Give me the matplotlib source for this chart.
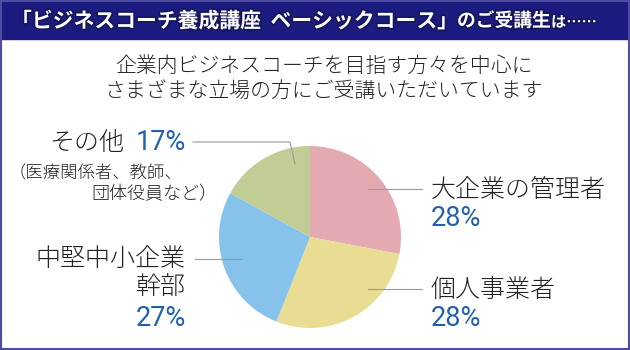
import matplotlib
matplotlib.use("Agg")
from matplotlib import pyplot as plt
from matplotlib.patches import Rectangle
import matplotlib.patheffects as pe

plt.rcParams['font.family'] = ['Noto Sans CJK JP', 'DejaVu Sans']

# 受講生の内訳 (%)
categories = ['大企業の管理者', '個人事業者', '中堅中小企業\n幹部', 'その他']
shares = [28, 28, 27, 17]
colors = ['#e3aab1', '#e9dd94', '#87c2eb', '#c1cd94']

title_main = '「ビジネスコーチ養成講座  ベーシックコース」'
title_tail1 = 'のご受講生'
title_tail2 = 'は……'
subtitle = ['企業内ビジネスコーチを目指す方々を中心に',
            'さまざまな立場の方にご受講いただいています']
other_note = ['（医療関係者、教師、', '団体役員など）']

W, H = 630, 350
fig = plt.figure(figsize=(W / 100, H / 100), dpi=100)
ax = fig.add_axes([0, 0, 1, 1])


def Y(y):
    # 画像の上からのピクセル位置 -> 座標
    return H - y


ax.pie(shares, colors=colors, startangle=90, counterclock=False,
       center=(310, Y(237)), radius=91,
       wedgeprops=dict(linewidth=0))
ax.set_xlim(0, W)
ax.set_ylim(0, H)
ax.set_aspect('equal')
ax.axis('off')

# ヘッダー帯と枠
ax.add_patch(Rectangle((0, Y(39)), W, 39, color='#1c1c80', zorder=0))
ax.add_patch(Rectangle((0.8, 0.8), W - 1.6, H - 2, fill=False,
                       edgecolor='#4c4ca0', linewidth=1.5, zorder=5))

shadow = [pe.withStroke(linewidth=2.5, foreground='#15155e')]
ax.text(11, Y(21), title_main, color='white', fontsize=15, fontweight='bold',
        va='center', ha='left', path_effects=shadow)
ax.text(457, Y(21), title_tail1, color='white', fontsize=13.5,
        fontweight='bold', va='center', ha='left', path_effects=shadow)
ax.text(551, Y(22), title_tail2, color='white', fontsize=11,
        fontweight='bold', va='center', ha='left', path_effects=shadow)

ax.text(324, Y(66), subtitle[0], fontsize=15, color='#222222',
        ha='center', va='center', fontweight='light')
ax.text(324, Y(91), subtitle[1], fontsize=15, color='#222222',
        ha='center', va='center', fontweight='light')

label_c = '#222222'
pct_c = '#2060ad'
line_c = '#9a9a9a'
lab = dict(fontsize=18, color=label_c, va='center', fontweight='light')
pct = dict(fontsize=19.5, color=pct_c, va='center', fontweight='normal',
           family=['Roboto', 'DejaVu Sans'])

# 右側のラベル
ax.text(431, Y(190), categories[0], ha='left', **lab)
ax.text(431, Y(218), f'{shares[0]}%', ha='left', **pct)
ax.text(431, Y(290), categories[1], ha='left', **lab)
ax.text(431, Y(318), f'{shares[1]}%', ha='left', **pct)

# 左側のラベル
ax.text(186, Y(273), categories[2], ha='right', linespacing=1.05, **lab)
ax.text(186, Y(318), f'{shares[2]}%', ha='right', **pct)
ax.text(49, Y(143), categories[3], ha='left', **lab)
ax.text(186, Y(143), f'{shares[3]}%', ha='right', **pct)
ax.text(9, Y(173), other_note[0], fontsize=12.5, color=label_c,
        ha='left', va='center', fontweight='light')
ax.text(91, Y(194), other_note[1], fontsize=13, color=label_c,
        ha='left', va='center', fontweight='light')

# 引き出し線
ax.plot([368, 422], [Y(189), Y(189)], color=line_c, lw=0.8)
ax.plot([368, 422], [Y(289), Y(289)], color=line_c, lw=0.8)
ax.plot([195, 242], [Y(259), Y(259)], color=line_c, lw=0.8)
ax.plot([193, 290, 295], [Y(142), Y(142), Y(164)], color=line_c, lw=0.8)

fig.savefig('out.png', dpi=100)
